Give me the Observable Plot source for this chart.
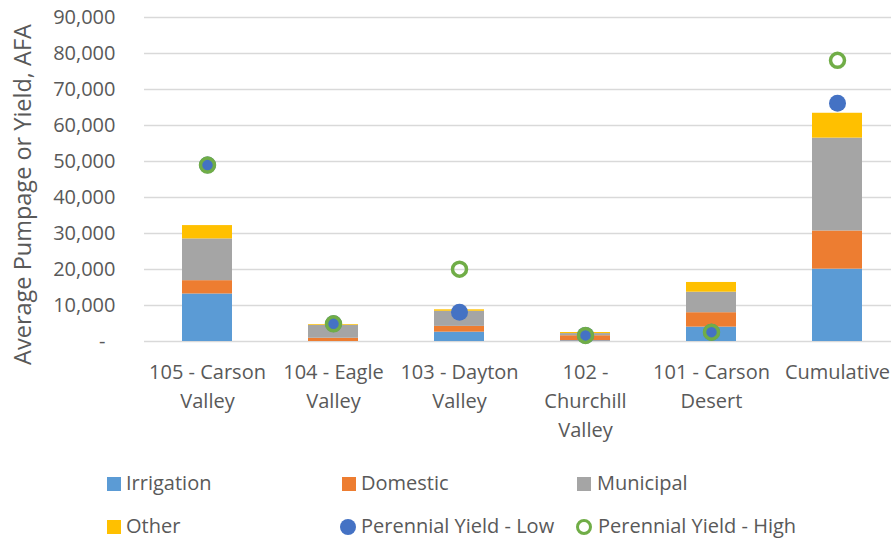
<!DOCTYPE html>
<html><head><meta charset="utf-8">
<script src="https://cdn.jsdelivr.net/npm/d3@7"></script>
<script src="https://cdn.jsdelivr.net/npm/@observablehq/plot@0.6"></script>
<style>
html,body{margin:0;padding:0;background:#fff;overflow:hidden;}
#wrap{position:relative;width:891px;height:542px;overflow:hidden;font-family:"Open Sans",sans-serif;}
#chart{position:absolute;left:0;top:0;width:891px;overflow:hidden;}
.leg{position:absolute;font-size:20px;color:#595959;line-height:20px;white-space:nowrap;}
.sw{position:absolute;width:14px;height:14px;}
.dot{position:absolute;width:16px;height:16px;border-radius:50%;box-sizing:border-box;}
</style></head>
<body><div id="wrap"><div id="chart"></div></div>
<script>
const categories = ["105 - Carson\nValley", "104 - Eagle\nValley", "103 - Dayton\nValley", "102 -\nChurchill\nValley", "101 - Carson\nDesert", "Cumulative"];
const seriesNames = ["Irrigation", "Domestic", "Municipal", "Other"];
const irrigation = [13200, 0, 2600, 200, 4000, 20100];
const domestic = [3700, 900, 1600, 1400, 4000, 10600];
const municipal = [11600, 3600, 4200, 600, 5700, 25800];
const other = [3700, 200, 400, 300, 2700, 6900];
const yieldLow = [49000, 4900, 8100, 1700, 2600, 66200];
const yieldHigh = [49000, 4900, 20100, 1700, 2600, 78100];
const yTicks = [0, 10000, 20000, 30000, 40000, 50000, 60000, 70000, 80000, 90000];
const yLabel = "Average Pumpage or Yield, AFA";
const colors = ["#5B9BD5", "#ED7D31", "#A5A5A5", "#FFC000"];
const lowColor = "#4472C4", highColor = "#70AD47";

const seriesValues = [irrigation, domestic, municipal, other];
const rows = [];
seriesNames.forEach((s, i) => categories.forEach((c, j) => rows.push({cat: c, series: s, value: seriesValues[i][j]})));
const points = categories.map((c, j) => ({cat: c, low: yieldLow[j], high: yieldHigh[j]}));

const textColor = "#595959";
const chart = Plot.plot({
  width: 891, height: 455,
  marginLeft: 144, marginRight: -9, marginTop: 17, marginBottom: 114,
  style: {fontFamily: "'Open Sans', sans-serif", color: textColor, background: "#fff", overflow: "hidden"},
  x: {domain: categories, paddingInner: 0.6, paddingOuter: 0.3},
  y: {domain: [0, 90000]},
  color: {domain: seriesNames, range: colors},
  marks: [
    Plot.ruleY(yTicks, {stroke: "#D9D9D9", strokeWidth: 1.3}),
    Plot.barY(rows, {x: "cat", y: "value", fill: "series"}),
    Plot.dot(points, {x: "cat", y: "low", r: 8.5, fill: lowColor}),
    Plot.dot(points, {x: "cat", y: "high", r: 7, stroke: highColor, strokeWidth: 3.5, fill: "none"}),
    Plot.axisY({ticks: yTicks, tickSize: 0, tickPadding: 29, fontSize: 20, fill: textColor,
      tickFormat: d => d === 0 ? "-\u2002" : d3.format(",")(d), label: null}),
    Plot.text([yLabel], {text: d => d, frameAnchor: "left", textAnchor: "middle", rotate: -90, dx: -121, dy: 15, fontSize: 23.5, fill: textColor}),
    Plot.axisX({tickSize: 0, tickPadding: 17, fontSize: 20, lineHeight: 1.45, fill: textColor, label: null})
  ]
});
document.getElementById("chart").appendChild(chart);

// legend
const wrap = document.getElementById("wrap");
const legendItems = [
  {name: "Irrigation", kind: "sq", color: colors[0], x: 107, y: 484, tx: 126},
  {name: "Domestic", kind: "sq", color: colors[1], x: 342, y: 484, tx: 361},
  {name: "Municipal", kind: "sq", color: colors[2], x: 577, y: 484, tx: 597},
  {name: "Other", kind: "sq", color: colors[3], x: 107, y: 527, tx: 126},
  {name: "Perennial Yield - Low", kind: "dot", color: lowColor, x: 341, y: 527, tx: 361},
  {name: "Perennial Yield - High", kind: "ring", color: highColor, x: 577, y: 527, tx: 598}
];
legendItems.forEach(it => {
  const m = document.createElement("div");
  if (it.kind === "sq") {
    m.className = "sw"; m.style.background = it.color;
    m.style.left = it.x + "px"; m.style.top = (it.y - 7) + "px";
  } else {
    m.className = "dot";
    m.style.left = (it.x - 1) + "px"; m.style.top = (it.y - 8) + "px";
    if (it.kind === "dot") m.style.background = it.color;
    else m.style.border = "3.5px solid " + it.color;
  }
  wrap.appendChild(m);
  const t = document.createElement("div");
  t.className = "leg"; t.textContent = it.name;
  t.style.left = it.tx + "px"; t.style.top = (it.y - 11) + "px";
  wrap.appendChild(t);
});
</script></body></html>
